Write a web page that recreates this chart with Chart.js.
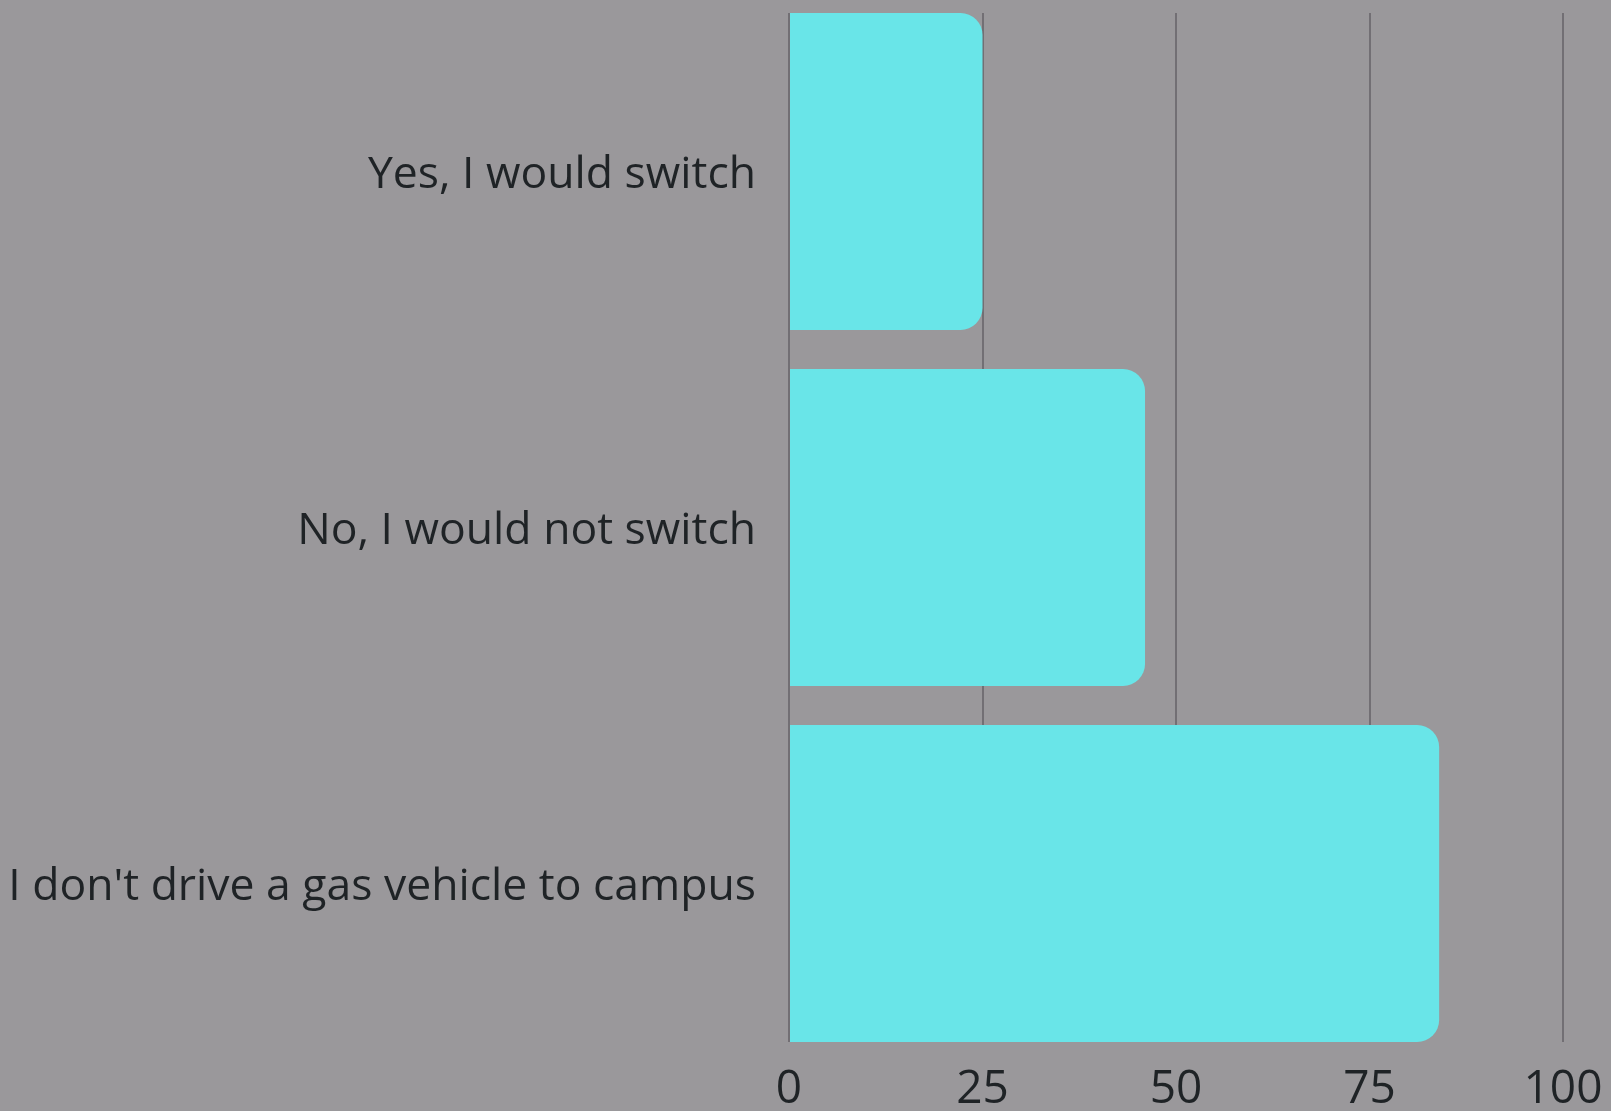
<!DOCTYPE html>
<html>
<head>
<meta charset="utf-8">
<script src="https://cdn.jsdelivr.net/npm/chart.js@4"></script>
<style>
  html, body { margin: 0; padding: 0; background: #9a989b; }
  #wrap { width: 1611px; height: 1111px; position: relative; }
</style>
</head>
<body>
<div id="wrap"><canvas id="c" width="1611" height="1111"></canvas></div>
<script>
const categories = ["Yes, I would switch", "No, I would not switch", "I don't drive a gas vehicle to campus"];
const values = [25, 46, 84];
const xTicks = [0, 25, 50, 75, 100];

const points = values.map((v, i) => ({ x: v, y: i }));

new Chart(document.getElementById('c'), {
  type: 'bar',
  data: {
    datasets: [{
      data: points,
      backgroundColor: '#69e5e8',
      borderWidth: 0,
      borderRadius: { topLeft: 0, bottomLeft: 0, topRight: 22, bottomRight: 22 },
      borderSkipped: false,
      categoryPercentage: 1,
      barPercentage: 0.89
    }]
  },
  options: {
    indexAxis: 'y',
    responsive: false,
    animation: false,
    layout: { padding: { top: 13, right: 0, left: 0, bottom: 0 } },
    plugins: { legend: { display: false }, tooltip: { enabled: false } },
    scales: {
      x: {
        type: 'linear',
        min: 0, max: 100,
        afterBuildTicks: (s) => { s.ticks = xTicks.map(v => ({ value: v })); },
        afterFit: (s) => { s.paddingRight = 48; s.paddingLeft = 0; s.height = 69; },
        grid: { color: '#726f74', lineWidth: 2, drawTicks: false },
        border: { display: false },
        ticks: { color: '#1f2326', font: { family: 'Open Sans', size: 46 }, padding: 20 }
      },
      y: {
        type: 'linear',
        reverse: true,
        offset: false,
        min: -0.445, max: 2.445,
        afterBuildTicks: (s) => { s.ticks = categories.map((c, i) => ({ value: i })); },
        afterFit: (s) => { s.width = 789; s.paddingTop = 0; s.paddingBottom = 0; },
        grid: { display: false, drawTicks: false, offset: false },
        border: { display: false },
        ticks: {
          color: '#1f2326',
          font: { family: 'Open Sans', size: 44.5 },
          padding: 33,
          labelOffset: 4,
          callback: (v) => categories[v]
        }
      }
    }
  }
});
</script>
</body>
</html>
